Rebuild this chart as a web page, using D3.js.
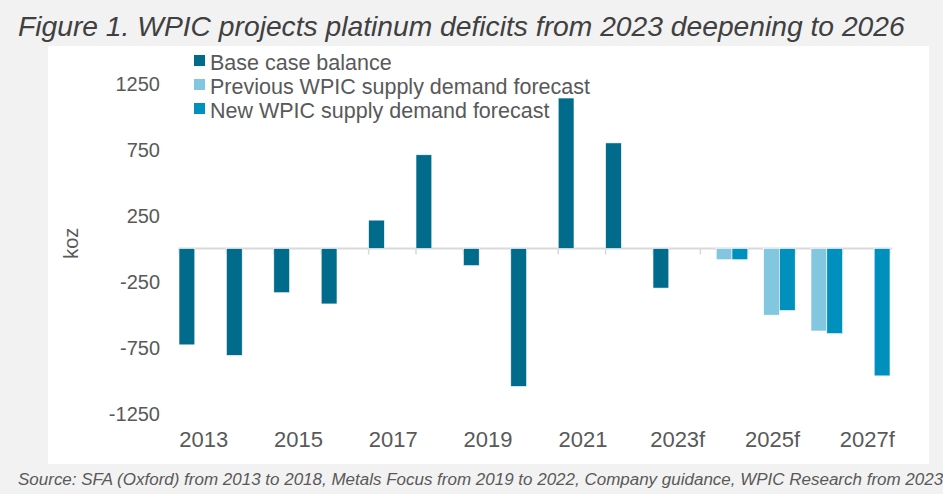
<!DOCTYPE html>
<html>
<head>
<meta charset="utf-8">
<script src="https://cdn.jsdelivr.net/npm/d3@7"></script>
<style>
  body { margin: 0; background: #f2f2f2; }
  svg { display: block; font-family: "Liberation Sans", Arial, sans-serif; }
</style>
</head>
<body>
<div id="chart"></div>
<script>
const categories = ["2013", "2014", "2015", "2016", "2017", "2018", "2019", "2020",
	"2021", "2022", "2023f", "2024f", "2025f", "2026f", "2027f"];
const tickLabels = ["2013", "2015", "2017", "2019", "2021", "2023f", "2025f", "2027f"];
const yTicks = [1250, 750, 250, -250, -750, -1250];

// koz, null = no bar
const baseCase = [-730, -810, -335, -420, 215, 710, -130, -1045, 1140, 800, -300, null, null, null, null];
const previousForecast = [null, null, null, null, null, null, null, null, null, null, null, -85, -505, -625, null];
const newForecast = [null, null, null, null, null, null, null, null, null, null, null, -85, -470, -645, -965];

const seriesNames = ["Base case balance", "Previous WPIC supply demand forecast", "New WPIC supply demand forecast"];
const seriesColors = ["#006b8b", "#82c7df", "#0090be"];
const seriesValues = [baseCase, previousForecast, newForecast];

const width = 943, height = 494;
const textColor = "#595959";

const svg = d3.select("#chart").append("svg")
	.attr("width", width)
	.attr("height", height);

svg.append("rect").attr("width", width).attr("height", height).attr("fill", "#f2f2f2");

// white plot panel
svg.append("rect")
	.attr("x", 48).attr("y", 46)
	.attr("width", 881).attr("height", 418)
	.attr("fill", "#fff");

// shrink or grow a text so it spans a given width
const fitText = (sel, size, target) => {
	const w = sel.node().getComputedTextLength();
	sel.attr("font-size", size * target / w);
};

const title = svg.append("text")
	.attr("x", 18).attr("y", 36)
	.attr("font-style", "italic")
	.attr("font-size", 26)
	.attr("fill", "#404040")
	.text("Figure 1. WPIC projects platinum deficits from 2023 deepening to 2026");
fitText(title, 26, 887);

const x = d3.scaleBand().domain(categories).range([179, 890]).padding(0);
const xs = d3.scaleBand().domain([0, 1, 2]).range([0, x.bandwidth()]).padding(0);
const y = d3.scaleLinear().domain([-1250, 1250]).range([413.5, 83.5]);

// y tick labels
svg.append("g")
	.selectAll("text")
	.data(yTicks)
	.join("text")
	.attr("x", 160)
	.attr("y", (d) => y(d))
	.attr("dy", "0.35em")
	.attr("text-anchor", "end")
	.attr("font-size", 20)
	.attr("fill", textColor)
	.text((d) => d);

svg.append("text")
	.attr("transform", `translate(78, ${y(40)}) rotate(-90)`)
	.attr("text-anchor", "middle")
	.attr("font-size", 20)
	.attr("fill", textColor)
	.text("koz");

// zero axis line with ticks at category boundaries
const axisG = svg.append("g");
axisG.append("line")
	.attr("x1", 178).attr("x2", 892)
	.attr("y1", y(0)).attr("y2", y(0))
	.attr("stroke", "#d9d9d9").attr("stroke-width", 2);
axisG.selectAll("line.tick")
	.data(categories.concat(["end"]))
	.join("line")
	.attr("class", "tick")
	.attr("x1", (d, i) => 179 + i * x.step())
	.attr("x2", (d, i) => 179 + i * x.step())
	.attr("y1", y(0)).attr("y2", y(0) + 6)
	.attr("stroke", "#d9d9d9").attr("stroke-width", 1.5);

// bars
seriesValues.forEach((vals, s) => {
	svg.append("g")
		.selectAll("rect")
		.data(categories.map((c, i) => ({ c, v: vals[i] })).filter((d) => d.v !== null))
		.join("rect")
		.attr("x", (d) => x(d.c) + xs(s))
		.attr("width", xs.bandwidth())
		.attr("y", (d) => y(Math.max(0, d.v)))
		.attr("height", (d) => Math.abs(y(d.v) - y(0)))
		.attr("fill", seriesColors[s])
		.attr("stroke", "#fff")
		.attr("stroke-width", 0.6);
});

// x labels, every other category
svg.append("g")
	.selectAll("text")
	.data(tickLabels)
	.join("text")
	.attr("x", (d) => x(d) + x.bandwidth() / 2 + 1)
	.attr("y", 447)
	.attr("text-anchor", "middle")
	.attr("font-size", 22)
	.attr("fill", textColor)
	.text((d) => d);

// legend
const legend = svg.append("g").attr("transform", "translate(194, 55)");
seriesNames.forEach((name, i) => {
	const row = legend.append("g").attr("transform", `translate(0, ${i * 24})`);
	row.append("rect").attr("width", 11).attr("height", 11).attr("fill", seriesColors[i]);
	row.append("text")
		.attr("x", 16).attr("y", 15)
		.attr("font-size", 21.5)
		.attr("fill", textColor)
		.text(name);
});

// source note
const source = svg.append("text")
	.attr("x", 18).attr("y", 485)
	.attr("font-style", "italic")
	.attr("font-size", 15)
	.attr("fill", textColor)
	.text("Source: SFA (Oxford) from 2013 to 2018, Metals Focus from 2019 to 2022, Company guidance, WPIC Research from 2023");
fitText(source, 15, 926);
</script>
</body>
</html>
